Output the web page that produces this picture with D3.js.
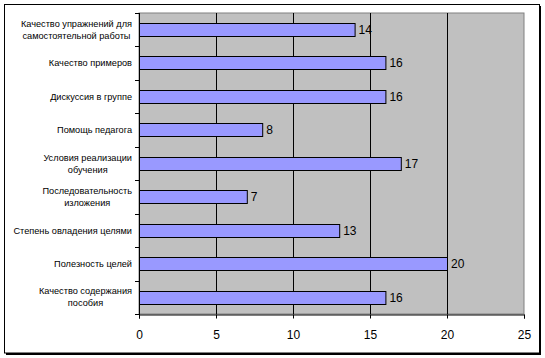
<!DOCTYPE html>
<html>
<head>
<meta charset="utf-8">
<script src="https://cdn.jsdelivr.net/npm/d3@7"></script>
<style>
  body { margin: 0; background: #fff; }
  svg { display: block; font-family: "Liberation Sans", Arial, sans-serif; }
</style>
</head>
<body>
<svg width="545" height="358"></svg>
<script>
// categories top to bottom, each as wrapped lines
const categories = [
  ["Качество упражнений для", "самостоятельной работы"],
  ["Качество примеров"],
  ["Дискуссия в группе"],
  ["Помощь педагога"],
  ["Условия реализации", "обучения"],
  ["Последовательность", "изложения"],
  ["Степень овладения целями"],
  ["Полезность целей"],
  ["Качество содержания", "пособия"]
];
const values = [14, 16, 16, 8, 17, 7, 13, 20, 16];
const xTicks = [0, 5, 10, 15, 20, 25];

const svg = d3.select("svg");

// chart area frame with shadow
svg.append("rect").attr("x", 6).attr("y", 6).attr("width", 535).attr("height", 349).attr("fill", "#000");
svg.append("rect").attr("x", 4.5).attr("y", 4.5).attr("width", 535).attr("height", 348.5)
  .attr("fill", "#fff").attr("stroke", "#000").attr("stroke-width", 1);

const marginLeft = 139, marginTop = 13, width = 385, height = 301;
const chart = svg.append("g").attr("transform", `translate(${marginLeft},${marginTop})`);

const x = d3.scaleLinear().domain([0, 25]).range([0, width]);
const y = d3.scaleBand().domain(d3.range(values.length)).range([0, height])
  .paddingInner(0.6).paddingOuter(0.3);
const step = height / values.length;

// plot background
chart.append("rect").attr("width", width).attr("height", height)
  .attr("fill", "#c0c0c0").attr("stroke", "#808080").attr("stroke-width", 1);

// gridlines
chart.append("g")
  .selectAll("line")
  .data(xTicks.filter(t => t > 0 && t < 25))
  .join("line")
  .attr("x1", d => Math.round(x(d)) + 0.5).attr("x2", d => Math.round(x(d)) + 0.5)
  .attr("y1", 0).attr("y2", height)
  .attr("stroke", "#000");

// bars
chart.selectAll(".bar")
  .data(values)
  .join("rect")
  .attr("class", "bar")
  .attr("x", 0.5)
  .attr("y", (d, i) => Math.round(y(i)) + 0.5)
  .attr("width", d => x(d))
  .attr("height", Math.round(y.bandwidth()))
  .attr("fill", "#9999ff")
  .attr("stroke", "#000");

// value labels
chart.selectAll(".val")
  .data(values)
  .join("text")
  .attr("class", "val")
  .attr("x", d => x(d) + 4)
  .attr("y", (d, i) => y(i) + y.bandwidth() / 2)
  .attr("dy", "0.36em")
  .attr("font-size", 12)
  .attr("fill", "#000")
  .text(d => d);

// x axis
const xAxis = chart.append("g")
  .attr("transform", `translate(0,${height + 0.5})`)
  .call(d3.axisBottom(x).tickValues(xTicks).tickSize(4).tickPadding(12));
xAxis.select(".domain").attr("stroke", "#000");
xAxis.selectAll("text").attr("font-size", 12).attr("font-family", "Liberation Sans, Arial, sans-serif").attr("fill", "#000");

// y axis line and ticks between categories
chart.append("line").attr("x1", 0.5).attr("x2", 0.5).attr("y1", 0).attr("y2", height + 4).attr("stroke", "#000");
chart.append("g")
  .selectAll("line")
  .data(d3.range(values.length + 1))
  .join("line")
  .attr("x1", -4).attr("x2", 0.5)
  .attr("y1", d => Math.round(d * step) + 0.5).attr("y2", d => Math.round(d * step) + 0.5)
  .attr("stroke", "#000");

// category labels: block right-aligned, lines centred in block
const labelRight = -7;
const lineH = 12;
categories.forEach((lines, i) => {
  const g = chart.append("g");
  const cy = y(i) + y.bandwidth() / 2;
  const texts = lines.map((ln, j) => g.append("text")
    .attr("font-size", 9.2)
    .attr("fill", "#000")
    .attr("text-anchor", "middle")
    .attr("y", cy + (j - (lines.length - 1) / 2) * lineH)
    .attr("dy", "0.35em")
    .text(ln));
  const maxW = d3.max(texts, t => t.node().getComputedTextLength());
  texts.forEach(t => t.attr("x", labelRight - maxW / 2));
});
</script>
</body>
</html>
